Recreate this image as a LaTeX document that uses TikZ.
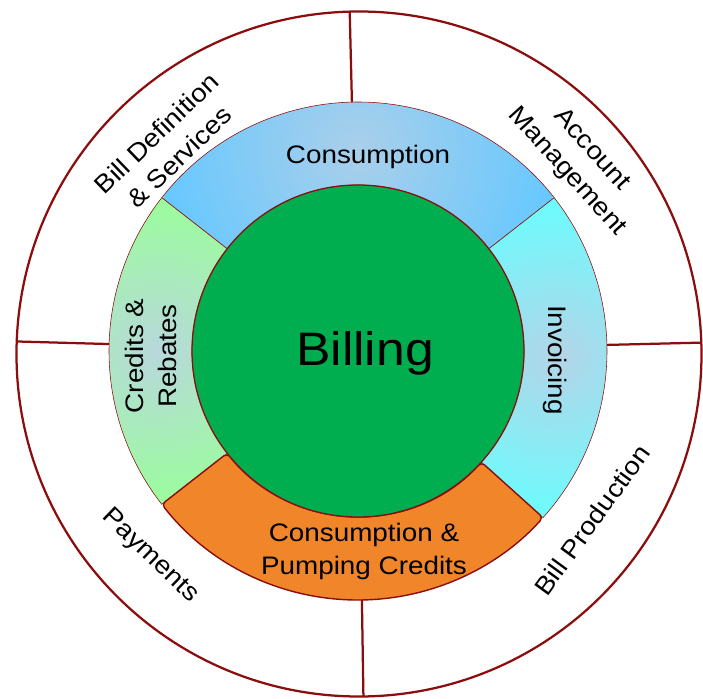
\documentclass[tikz,border=0pt]{standalone}
\usepackage{fontspec}
\setmainfont[FakeStretch=1.1]{Liberation Sans}
\usepackage{xcolor}
\definecolor{ringred}{HTML}{8B0D0D}
\definecolor{hubgreen}{HTML}{00AE50}
\definecolor{pumporange}{HTML}{F0852A}
\definecolor{consout}{HTML}{66C8FF}
\definecolor{consin}{HTML}{AACFEA}
\definecolor{invout}{HTML}{66FFFF}
\definecolor{invin}{HTML}{B4D4E8}
\definecolor{credout}{HTML}{99FF99}
\definecolor{credin}{HTML}{B8D8DC}
\tikzset{
    ring-line/.style = {draw=ringred, line width=1.6pt},
    segment-edge/.style = {draw=ringred, line width=0.4pt},
    ring-label/.style = {font=\fontsize{18pt}{23.4pt}\selectfont, align=center, inner sep=0pt},
    hub-label/.style = {font=\fontsize{33.4pt}{40pt}\selectfont, inner sep=0pt},
}
\newcommand{\sectorpath}[2]{(#1:249) arc[start angle=#1, end angle=#2, radius=249] -- (#2:166) arc[start angle=#2, end angle=#1, radius=166] -- cycle}

\begin{document}
\begin{tikzpicture}[x=0.025cm, y=0.025cm]
\useasboundingbox (-358,-347) rectangle (345,351);
% shaded segments of the middle ring
\foreach \a/\b/\outc/\inc/\R in {38/142/consout/consin/200, -42/38/invout/invin/170, 142/218/credout/credin/160} {
    \begin{scope}
        \clip \sectorpath{\a}{\b};
        \shade[inner color=\inc, outer color=\outc] ({(\a+\b)/2}:200) circle (\R);
    \end{scope}
    \draw[segment-edge] \sectorpath{\a}{\b};
}
\draw[draw=ringred, line width=1pt, fill=pumporange, rounded corners=3pt] \sectorpath{218}{318};
% hub
\draw[draw=ringred, line width=0.9pt, fill=hubgreen] (0,0) circle (166);
% outer ring
\draw[ring-line] (1,-3) circle (342.5);
\foreach \a/\r in {91.4/340, 270.9/346, 178.4/341, 1.4/343}
    \draw[ring-line] (\a:249) -- (\a:\r);
% labels
\node[hub-label, anchor=base] (billing) at (7,-14) {Billing};
\node[ring-label, anchor=base] (consumption) at (10,188) {Consumption};
\node[ring-label] (pumping) at (6,-200) {Consumption \&\\Pumping Credits};
\node[ring-label, rotate=-90] (invoicing) at (197,-9) {Invoicing};
\node[ring-label, rotate=90] (credits) at (-207,-5) {Credits \&\\Rebates};
\node[ring-label, rotate=44] (billdef) at (-190,206) {Bill Definition\\\& Services};
\node[ring-label, rotate=-48] (account) at (221,190) {Account\\Management};
\node[ring-label, rotate=54] (production) at (234,-169) {Bill Production};
\node[ring-label, rotate=-44] (payments) at (-208,-205) {Payments};
\end{tikzpicture}
\end{document}
